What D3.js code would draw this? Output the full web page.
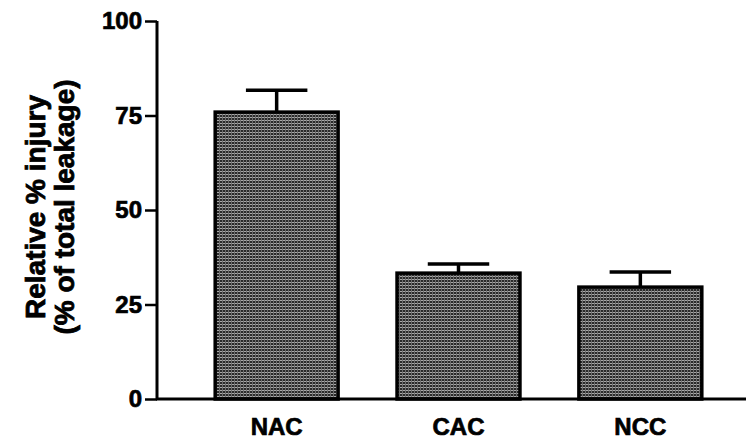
<!DOCTYPE html>
<html>
<head>
<meta charset="utf-8">
<script src="https://cdn.jsdelivr.net/npm/d3@7"></script>
<style>
  html, body { margin: 0; padding: 0; background: #fff; }
  svg { display: block; }
  text { font-family: "Liberation Sans", Arial, sans-serif; font-weight: bold; fill: #000; }
</style>
</head>
<body>
<svg id="chart" width="751" height="442"></svg>
<script>
// Injury data per group
const categories = ["NAC", "CAC", "NCC"];
const means = [75.9, 33.3, 29.6];
const errors = [5.8, 2.4, 4.0];
const yTicks = [0, 25, 50, 75, 100];
const yTitleLines = ["Relative % injury", "(% of total leakage)"];

const svg = d3.select("#chart");

const y = d3.scaleLinear().domain([0, 100]).range([399, 21]);
const x = d3.scaleBand().domain(categories).range([157, 760])
  .paddingInner(0.324).paddingOuter(0.32);

// Fine cross-hatched dark grey fill for the bars
const defs = svg.append("defs");
const pat = defs.append("pattern").attr("id", "hatch")
  .attr("patternUnits", "userSpaceOnUse").attr("width", 3).attr("height", 3);
pat.append("rect").attr("width", 3).attr("height", 3).attr("fill", "#2a2a2a");
pat.append("rect").attr("width", 3).attr("height", 1).attr("fill", "#a8a8a8");
pat.append("rect").attr("width", 1).attr("height", 3).attr("fill", "#6e6e6e");

const data = categories.map((c, i) => ({ c, m: means[i], e: errors[i] }));
const cx = d => x(d.c) + x.bandwidth() / 2;

// Error bars (drawn under the bar outline)
const eb = svg.append("g").selectAll("g").data(data).join("g");
eb.append("line")
  .attr("x1", cx).attr("x2", cx)
  .attr("y1", d => y(d.m)).attr("y2", d => y(d.m + d.e))
  .attr("stroke", "#000").attr("stroke-width", 3.5);
eb.append("line")
  .attr("x1", d => cx(d) - x.bandwidth() / 4)
  .attr("x2", d => cx(d) + x.bandwidth() / 4)
  .attr("y1", d => y(d.m + d.e)).attr("y2", d => y(d.m + d.e))
  .attr("stroke", "#000").attr("stroke-width", 3.5);

// Bars
svg.append("g").selectAll("rect").data(data).join("rect")
  .attr("x", d => x(d.c)).attr("width", x.bandwidth())
  .attr("y", d => y(d.m)).attr("height", d => y(0) - y(d.m))
  .attr("fill", "url(#hatch)").attr("stroke", "#000").attr("stroke-width", 3.5);

const heavy = sel => sel.style("font-size", "24px")
  .style("font-family", "'Liberation Sans', Arial, sans-serif").style("font-weight", "bold")
  .attr("stroke", "#000").attr("stroke-width", 0.7);

// Y axis
const yAxis = svg.append("g").attr("transform", "translate(157,0)")
  .call(d3.axisLeft(y).tickValues(yTicks).tickSize(12).tickPadding(3));
yAxis.select(".domain").attr("stroke-width", 3).attr("d", `M0,${y(100)}V${y(0) + 1}`);
yAxis.selectAll(".tick line").attr("stroke-width", 2.5);
yAxis.selectAll(".tick text").call(heavy);

// X axis baseline and labels
const xAxis = svg.append("g").attr("transform", `translate(0,${y(0)})`)
  .call(d3.axisBottom(x).tickSize(0).tickPadding(19));
xAxis.select(".domain").attr("stroke-width", 3).attr("d", "M156,0H746");
xAxis.selectAll(".tick text").call(heavy);

// Y axis title (two lines)
svg.append("g").attr("transform", "translate(0,207) rotate(-90)")
  .selectAll("text").data(yTitleLines).join("text")
  .attr("x", 0).attr("y", (d, i) => 45 + i * 29)
  .attr("text-anchor", "middle").style("font-size", "28px")
  .attr("stroke", "#000").attr("stroke-width", 0.8)
  .text(d => d);
</script>
</body>
</html>
